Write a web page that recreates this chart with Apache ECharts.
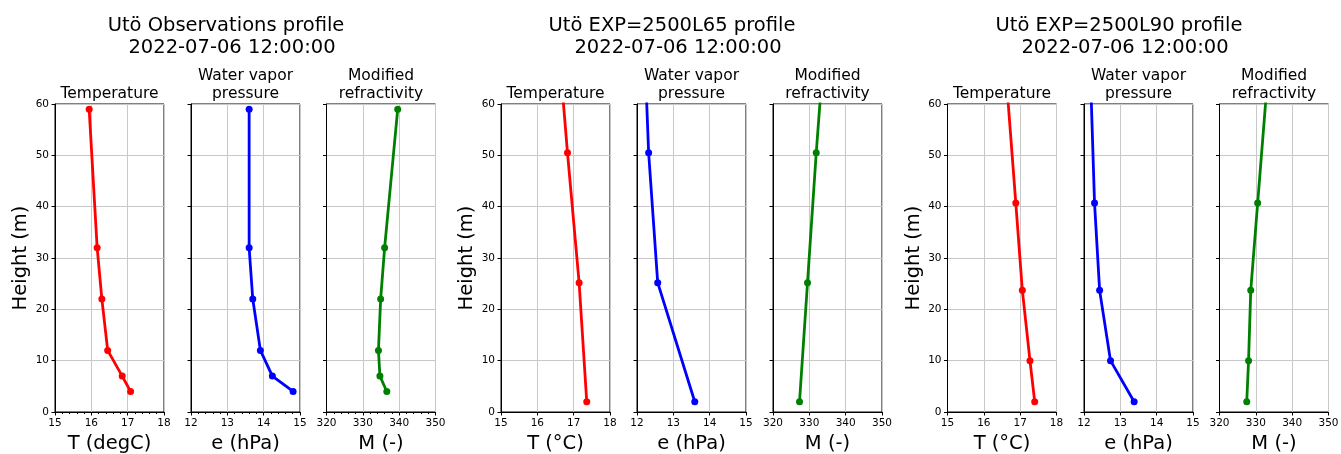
<!DOCTYPE html>
<html>
<head>
<meta charset="utf-8">
<script src="https://cdn.jsdelivr.net/npm/echarts/dist/echarts.min.js"></script>
<style>
  html, body { margin: 0; padding: 0; background: #fff; }
  #chart { width: 1341px; height: 454px; }
</style>
</head>
<body>
<div id="chart"></div>
<script>
// observations (mast levels)
var obsHeight = [59, 32, 22, 12, 7, 4];
var obsT = [15.94, 16.16, 16.29, 16.45, 16.85, 17.08];
var obsE = [13.60, 13.60, 13.70, 13.91, 14.24, 14.81];
var obsM = [339.6, 336.0, 334.9, 334.3, 334.7, 336.6];

// model EXP=2500L65 (top level lies above the plotted range)
var l65Height = [78, 50.5, 25.2, 2];
var l65T = [16.51, 16.83, 17.15, 17.36];
var l65E = [12.17, 12.32, 12.57, 13.59];
var l65M = [334.8, 331.9, 329.5, 327.3];

// model EXP=2500L90
var l90Height = [63, 40.7, 23.7, 10, 2];
var l90T = [16.64, 16.88, 17.06, 17.27, 17.40];
var l90E = [12.19, 12.29, 12.43, 12.73, 13.38];
var l90M = [333.0, 330.5, 328.6, 328.0, 327.5];

var groupTitles = ['Utö Observations profile', 'Utö EXP=2500L65 profile', 'Utö EXP=2500L90 profile'];
var dateLabel = '2022-07-06 12:00:00';
var panelTitles = ['Temperature', 'Water vapor\npressure', 'Modified\nrefractivity'];
var xNamesObs = ['T (degC)', 'e (hPa)', 'M (-)'];
var xNamesModel = ['T (°C)', 'e (hPa)', 'M (-)'];
var xRanges = [[15, 18, 1], [12, 15, 1], [320, 350, 10]];
var colors = ['#ff0000', '#0000ff', '#008000'];

var FONT = 'DejaVu Sans';
var chart = echarts.init(document.getElementById('chart'));

var groups = [
  { h: obsHeight, vals: [obsT, obsE, obsM], names: xNamesObs, minor: true, lefts: [55, 191, 326.5], center: 226 },
  { h: l65Height, vals: [l65T, l65E, l65M], names: xNamesModel, minor: false, lefts: [501, 637, 773], center: 672 },
  { h: l90Height, vals: [l90T, l90E, l90M], names: xNamesModel, minor: false, lefts: [947.5, 1084, 1219.5], center: 1119 }
];

var grid = [], xAxis = [], yAxis = [], series = [], title = [];
var W = 109, TOP = 104, H = 308;

groups.forEach(function (g, gi) {
  title.push({ text: groupTitles[gi], left: g.center, top: 16, textAlign: 'center', padding: 0,
    textStyle: { fontFamily: FONT, fontSize: 19.5, fontWeight: 'normal', color: '#000', lineHeight: 20 } });
  title.push({ text: dateLabel, left: g.center + 6, top: 37.5, textAlign: 'center', padding: 0,
    textStyle: { fontFamily: FONT, fontSize: 19.5, fontWeight: 'normal', color: '#000', lineHeight: 20 } });

  for (var p = 0; p < 3; p++) {
    var idx = gi * 3 + p;
    var left = g.lefts[p];
    grid.push({ left: left, top: TOP, width: W, height: H, show: true, borderColor: '#000', borderWidth: 1,
      containLabel: false, outerBoundsMode: 'none' });

    var nLines = panelTitles[p].split('\n').length;
    title.push({ text: panelTitles[p], left: left + W / 2, top: 85.4 - (nLines - 1) * 18, textAlign: 'center', padding: 0,
      textStyle: { fontFamily: FONT, fontSize: 15.5, fontWeight: 'normal', color: '#000', lineHeight: 18 } });

    var r = xRanges[p];
    xAxis.push({
      type: 'value', gridIndex: idx, min: r[0], max: r[1], interval: r[2],
      name: g.names[p], nameLocation: 'middle', nameGap: 18,
      nameTextStyle: { fontFamily: FONT, fontSize: 19.5, color: '#000' },
      axisLine: { show: true, onZero: false, lineStyle: { color: '#000', width: 1 } },
      axisTick: { show: true, length: 3.5, lineStyle: { color: '#000' } },
      minorTick: { show: g.minor, splitNumber: 5, length: 2, lineStyle: { color: '#000' } },
      axisLabel: { fontFamily: FONT, fontSize: 10.5, color: '#000', margin: 6, showMinLabel: true, showMaxLabel: true },
      splitLine: { show: true, lineStyle: { color: '#c8c8c8', width: 1 } }
    });
    yAxis.push({
      type: 'value', gridIndex: idx, min: 0, max: 60, interval: 10,
      name: p === 0 ? 'Height (m)' : '', nameLocation: 'middle', nameGap: 24,
      nameTextStyle: { fontFamily: FONT, fontSize: 19.5, color: '#000' },
      axisLine: { show: true, onZero: false, lineStyle: { color: '#000', width: 1 } },
      axisTick: { show: true, length: 3.5, lineStyle: { color: '#000' } },
      axisLabel: { show: p === 0, fontFamily: FONT, fontSize: 10.5, color: '#000', margin: 6, showMinLabel: true, showMaxLabel: true },
      splitLine: { show: true, lineStyle: { color: '#c8c8c8', width: 1 } }
    });

    var vals = g.vals[p];
    series.push({
      type: 'line', xAxisIndex: idx, yAxisIndex: idx,
      data: vals.map(function (v, i) { return [v, g.h[i]]; }),
      symbol: 'circle', symbolSize: 7, clip: true,
      itemStyle: { color: colors[p] },
      lineStyle: { color: colors[p], width: 2.8 },
      animation: false
    });
  }
});

chart.setOption({
  animation: false,
  title: title,
  grid: grid,
  xAxis: xAxis,
  yAxis: yAxis,
  series: series
});
</script>
</body>
</html>
